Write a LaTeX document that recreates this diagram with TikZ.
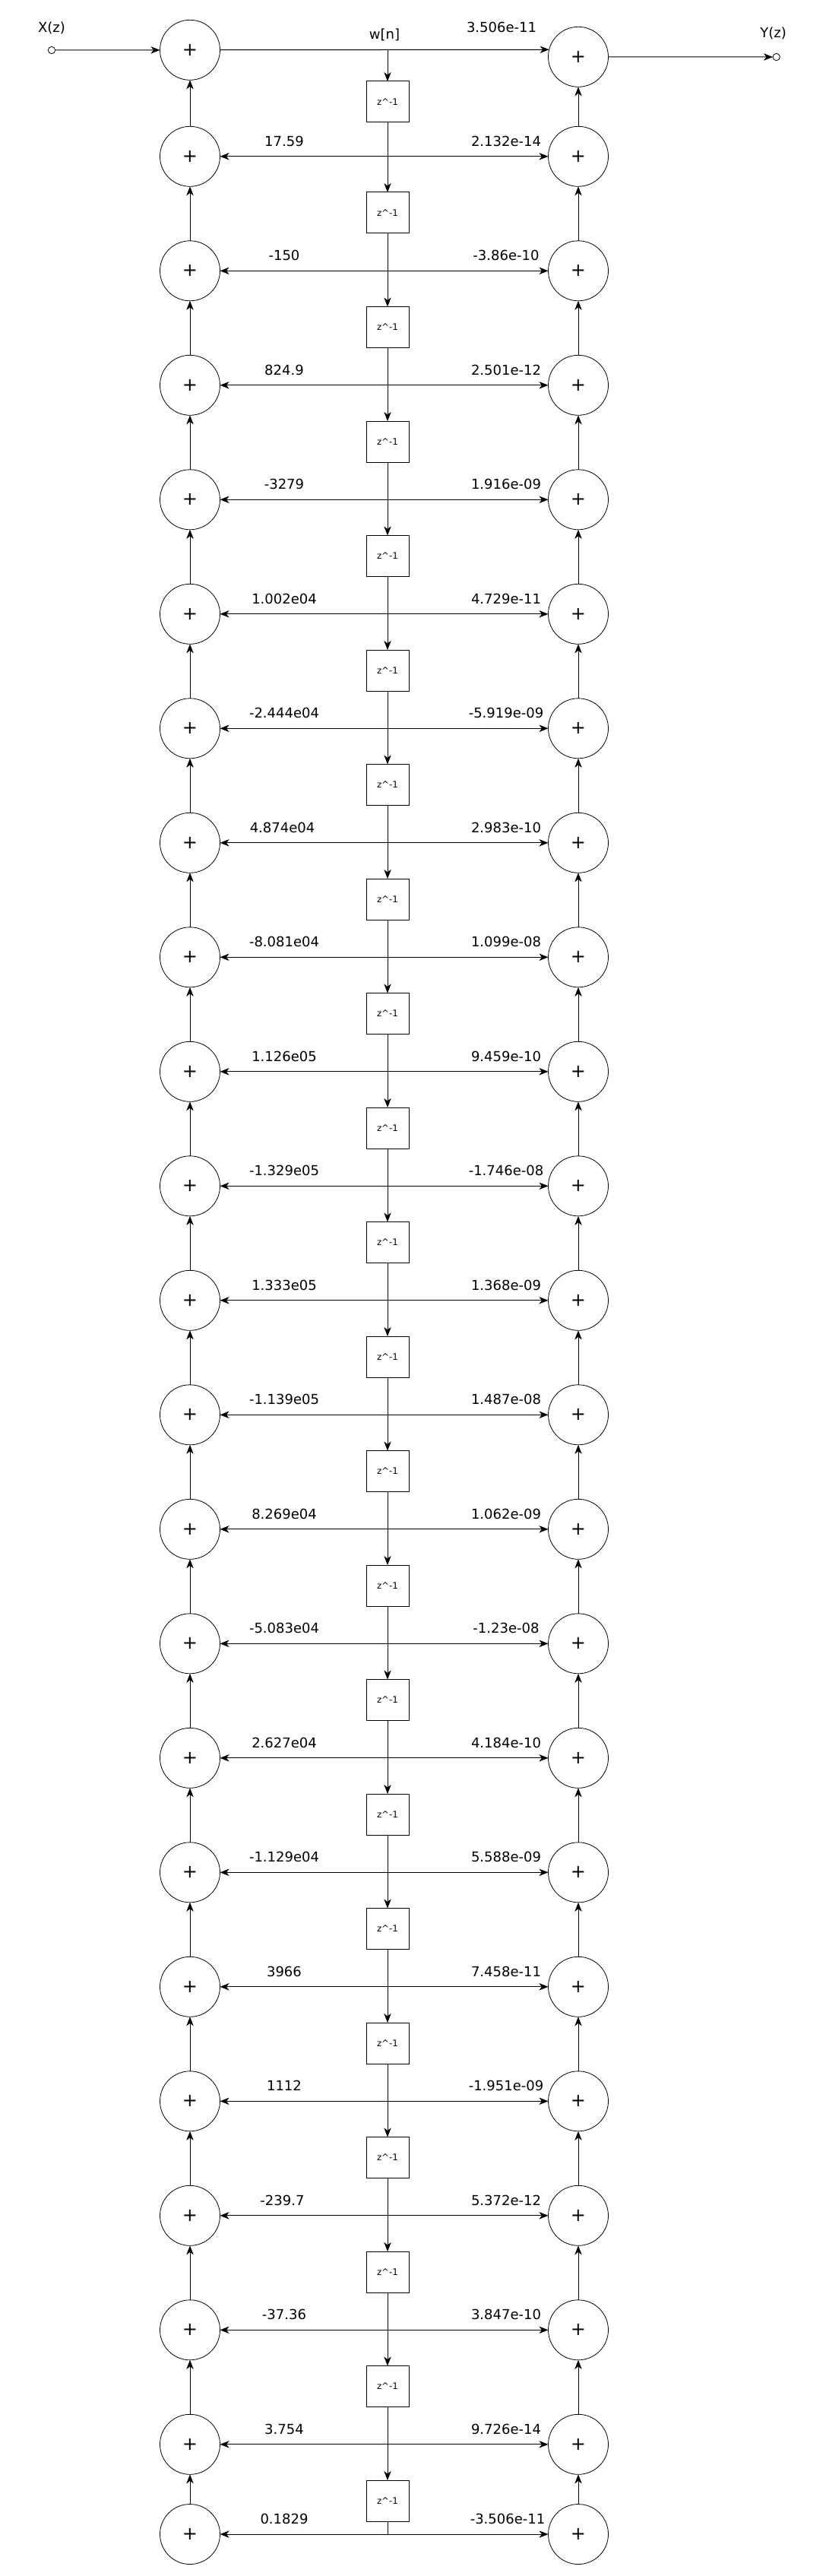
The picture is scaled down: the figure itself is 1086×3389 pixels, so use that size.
\documentclass[tikz,border=0pt]{standalone}
\usepackage{fontspec}
\setmainfont{DejaVu Sans}
\usetikzlibrary{arrows.meta, positioning}
\tikzset{
	adder/.style={draw, circle, minimum size=59.25pt, inner sep=0pt, outer sep=0pt,
		line width=0.6pt, font=\fontsize{18}{18}\selectfont},
	delay/.style={draw, rectangle, minimum width=42pt, minimum height=40.5pt, inner sep=0pt,
		outer sep=0pt, line width=0.75pt, font=\fontsize{8.9}{10}\selectfont},
	port/.style={draw, circle, minimum size=7pt, inner sep=0pt, outer sep=0pt, line width=0.6pt},
	coef/.style={anchor=base, inner sep=0pt, font=\fontsize{13.5}{15}\selectfont},
	sarr/.style={-{Stealth[length=9pt, width=7pt, inset=2.6pt]}, line width=0.75pt},
	darr/.style={{Stealth[length=9pt, width=7pt, inset=2.6pt]}-{Stealth[length=9pt, width=7pt, inset=2.6pt]}, line width=0.75pt}
}

\begin{document}
\begin{tikzpicture}[x=0.75pt, y=-0.75pt]
	\useasboundingbox (0,0) rectangle (1086,3389);

	% top row
	\node[port] (xin) at (68,66) {};
	\node[coef] (xlab) at (68,42.3) {X(z)};
	\node[adder] (ladd0) at (250,65.8) {+};
	\node[adder] (radd0) at (761,74.8) {+};
	\node[port] (yout) at (1021.7,75) {};
	\node[coef] (ylab) at (1017.7,49.3) {Y(z)};
	\node[coef] (wlab) at (506,51.7) {w[n]};
	\node[coef] (rlab0) at (660,42.3) {3.506e-11};
	\coordinate (wn) at (510,65.8);
	\node[delay] (dly1) at (510,134) {z\^{}-1};
	\draw[sarr] (xin) -- (ladd0);
	\draw[sarr] (ladd0) -- (radd0.166.83);
	\draw[sarr] (radd0) -- (yout);
	\draw[sarr] (wn) -- (dly1);

	% regular rows
	\foreach \i/\j/\lval/\rval/\lx in {
		1/0/17.59/2.132e-14/374, 2/1/-150/-3.86e-10/374, 3/2/824.9/2.501e-12/374,
		4/3/-3279/1.916e-09/374, 5/4/1.002e04/4.729e-11/374, 6/5/-2.444e04/-5.919e-09/374,
		7/6/4.874e04/2.983e-10/371.5, 8/7/-8.081e04/1.099e-08/374, 9/8/1.126e05/9.459e-10/374,
		10/9/-1.329e05/-1.746e-08/374, 11/10/1.333e05/1.368e-09/374, 12/11/-1.139e05/1.487e-08/374,
		13/12/8.269e04/1.062e-09/374, 14/13/-5.083e04/-1.23e-08/374, 15/14/2.627e04/4.184e-10/374,
		16/15/-1.129e04/5.588e-09/374, 17/16/3966/7.458e-11/374, 18/17/1112/-1.951e-09/374,
		19/18/-239.7/5.372e-12/371.5, 20/19/-37.36/3.847e-10/374, 21/20/3.754/9.726e-14/374}{
		\pgfmathsetmacro{\ypos}{205.8+150.5*(\i-1)}
		\node[adder] (ladd\i) at (250,\ypos) {+};
		\node[adder] (radd\i) at (761,\ypos) {+};
		\node[coef] (llab\i) at (\lx,\ypos-13.5) {\lval};
		\node[coef] (rlab\i) at (666,\ypos-13.5) {\rval};
		\draw[sarr] (ladd\i) -- (ladd\j);
		\draw[sarr] (radd\i) -- (radd\j);
		\draw[darr] (ladd\i) -- (radd\i);
		\pgfmathtruncatemacro{\k}{\i+1}
		\pgfmathsetmacro{\ybox}{280+150.5*(\i-1)}
		\node[delay] (dly\k) at (510,\ybox) {z\^{}-1};
		\draw[sarr] (dly\i) -- (dly\k);
	}

	% last row
	\node[adder] (ladd22) at (250,3334) {+};
	\node[adder] (radd22) at (761,3334) {+};
	\node[coef] (llab22) at (374,3320.5) {0.1829};
	\node[coef] (rlab22) at (668,3320.5) {-3.506e-11};
	\draw[sarr] (ladd22) -- (ladd21);
	\draw[sarr] (radd22) -- (radd21);
	\draw[darr] (ladd22) -- (radd22);
	\draw[line width=0.75pt] (dly22) -- (dly22 |- ladd22);
\end{tikzpicture}
\end{document}
